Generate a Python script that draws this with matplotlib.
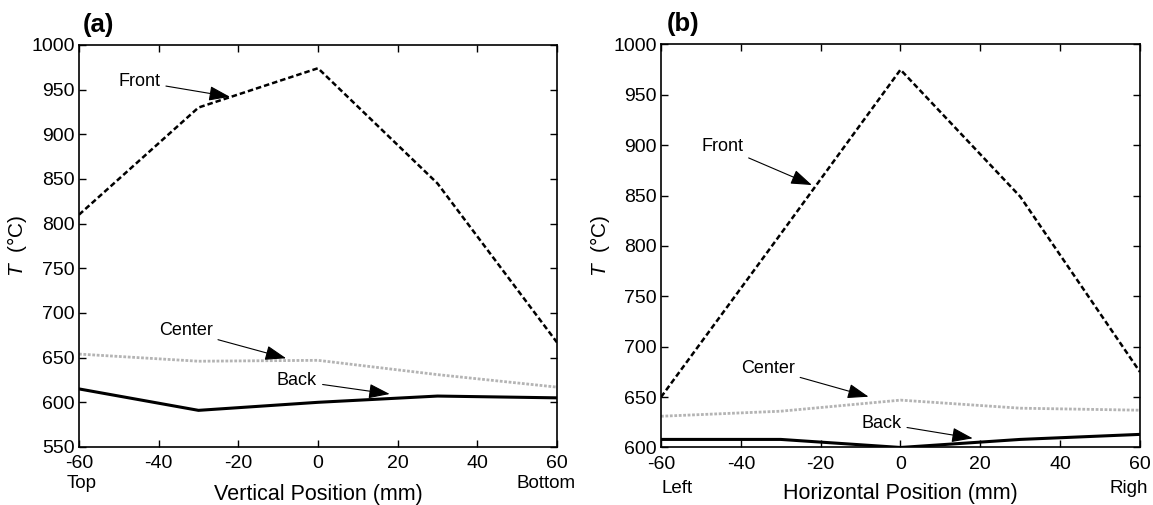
import matplotlib
matplotlib.use("Agg")
import matplotlib.pyplot as plt

plt.rcParams['font.family'] = ['Liberation Sans', 'DejaVu Sans']
plt.rcParams['mathtext.fontset'] = 'custom'
plt.rcParams['mathtext.it'] = 'Liberation Sans:italic'
plt.rcParams['mathtext.rm'] = 'Liberation Sans'
plt.rcParams['axes.unicode_minus'] = False

# ---- data ----
pos = [-60, -30, 0, 30, 60]

a_front = [810, 930, 974, 845, 667]
a_center = [654, 646, 647, 631, 617]
a_back = [615, 591, 600, 607, 605]

b_front = [650, 812, 975, 849, 675]
b_center = [631, 636, 647, 639, 637]
b_back = [608, 608, 600, 608, 613]

xticks = [-60, -40, -20, 0, 20, 40, 60]
a_yticks = list(range(550, 1001, 50))
b_yticks = list(range(600, 1001, 50))

fig = plt.figure(figsize=(11.53, 5.05), dpi=100)
axA = fig.add_axes([0.0685, 0.1149, 0.4146, 0.796])
axB = fig.add_axes([0.5733, 0.1139, 0.4154, 0.798])

def style(ax, yticks, ylim):
    ax.set_xlim(-60, 60)
    ax.set_ylim(*ylim)
    ax.set_xticks(xticks)
    ax.set_yticks(yticks)
    ax.tick_params(direction='in', top=True, right=True, length=5, width=1,
                   labelsize=14)
    ax.tick_params(axis='x', pad=6)
    ax.tick_params(axis='y', pad=3)
    for s in ax.spines.values():
        s.set_linewidth(1.2)

def lines(ax, front, center, back):
    ax.plot(pos, center, color='#b4b4b4', lw=2, linestyle=(0, (1, 0.6)))
    ax.plot(pos, back, color='black', lw=2.2)
    ax.plot(pos, front, color='black', lw=1.8, linestyle=(0, (2.2, 1.2)))

def ann(ax, text, xytext, xy):
    ax.annotate(text, xy=xy, xytext=xytext, fontsize=13, ha='left', va='center',
                arrowprops=dict(arrowstyle='-|>,head_length=1.0,head_width=0.35',
                                color='black', lw=0.8, shrinkA=2, shrinkB=0))

# ---- panel (a) ----
lines(axA, a_front, a_center, a_back)
style(axA, a_yticks, (550, 1000))
axA.set_xlabel('Vertical Position (mm)', fontsize=15.5, va='center')
axA.xaxis.set_label_coords(0.5, -0.117)
axA.set_ylabel(r'$T$  (°C)', fontsize=15, va='center')
axA.yaxis.set_label_coords(-0.13, 0.5)
ann(axA, 'Front', (-50.1, 959), (-22.1, 942))
ann(axA, 'Center', (-40.0, 680), (-8.0, 649.3))
ann(axA, 'Back', (-10.3, 624), (18.0, 609.3))
axA.text(0.006, -0.09, 'Top', transform=axA.transAxes, ha='center', va='center', fontsize=13.5)
axA.text(0.977, -0.092, 'Bottom', transform=axA.transAxes, ha='center', va='center', fontsize=13.5)
axA.text(0.008, 1.05, '(a)', transform=axA.transAxes, ha='left', va='center',
         fontsize=18.5, fontweight='bold')

# ---- panel (b) ----
lines(axB, b_front, b_center, b_back)
style(axB, b_yticks, (600, 1000))
axB.set_xlabel('Horizontal Position (mm)', fontsize=15.5, va='center')
axB.xaxis.set_label_coords(0.5, -0.115)
axB.set_ylabel(r'$T$  (°C)', fontsize=15, va='center')
axB.yaxis.set_label_coords(-0.127, 0.5)
ann(axB, 'Front', (-49.9, 898.6), (-22.2, 860.5))
ann(axB, 'Center', (-40.0, 678.6), (-8.0, 650.4))
ann(axB, 'Back', (-9.8, 624), (18.1, 609.1))
axB.text(0.033, -0.101, 'Left', transform=axB.transAxes, ha='center', va='center', fontsize=13.5)
axB.text(0.937, -0.101, 'Righ', transform=axB.transAxes, ha='left', va='center', fontsize=13.5)
axB.text(0.012, 1.05, '(b)', transform=axB.transAxes, ha='left', va='center',
         fontsize=18.5, fontweight='bold')

fig.savefig('out.png', dpi=100, facecolor='white')
